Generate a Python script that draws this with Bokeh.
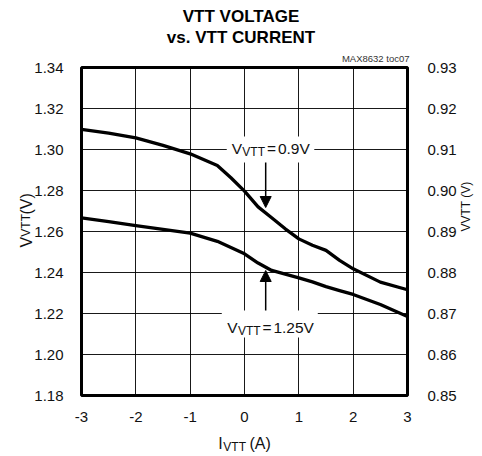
import math
from bokeh.plotting import figure
from bokeh.models import (Range1d, LinearAxis, FixedTicker, NumeralTickFormatter,
                          Label, Arrow, NormalHead, BoxAnnotation, ColumnDataSource)
from bokeh.embed import file_html
from bokeh.resources import INLINE

# ---------------- data ----------------
current = [-3, -2.5, -2, -1.5, -1, -0.5, -0.25, 0, 0.25, 0.5, 0.75, 1, 1.25, 1.5, 1.75, 2, 2.5, 3]
# VTT = 0.9V curve (right axis, V)
vtt_090 = [0.9149, 0.9140, 0.91285, 0.9110, 0.90895, 0.9061, 0.9031, 0.89985, 0.8960,
           0.89335, 0.89065, 0.8882, 0.88665, 0.8854, 0.88295, 0.8809, 0.87765, 0.8758]
# VTT = 1.25V curve (left axis, V)
vtt_125 = [1.2667, 1.2648, 1.2629, 1.2610, 1.2592, 1.2552, 1.2522, 1.2491, 1.2446,
           1.2410, 1.2392, 1.2374, 1.2354, 1.2331, 1.2312, 1.2293, 1.2244, 1.2185]

x_ticks = [-3, -2, -1, 0, 1, 2, 3]
y_left_ticks = [1.18, 1.20, 1.22, 1.24, 1.26, 1.28, 1.30, 1.32, 1.34]
y_right_ticks = [0.85, 0.86, 0.87, 0.88, 0.89, 0.90, 0.91, 0.92, 0.93]

title_lines = ["VTT VOLTAGE", "vs. VTT CURRENT"]
note_text = "MAX8632 toc07"
label_09 = ["V", "VTT", "=", "0.9V"]
label_125 = ["V", "VTT", "=", "1.25V"]
x_label = ["I", "VTT", "(A)"]
y_label = ["V", "VTT", "(V)"]
arrow_x = 0.39

FONT = "Liberation Sans"
INK = "#111111"
NB = "\u00a0"

# ---------------- figure ----------------
W, H = 482, 454
BL, BT = 81, 67
FW, FH = 327, 328
BR, BB = W - BL - FW, H - BT - FH

p = figure(width=W, height=H, x_range=Range1d(-3, 3), y_range=Range1d(1.18, 1.34),
           output_backend="svg", toolbar_location=None, title=None,
           min_border_left=BL, min_border_right=BR, min_border_top=BT, min_border_bottom=BB,
           background_fill_color="white", border_fill_color="white")
p.extra_y_ranges = {"right": Range1d(0.85, 0.93)}
p.add_layout(LinearAxis(y_range_name="right"), "right")

p.xaxis.ticker = FixedTicker(ticks=x_ticks)
p.xaxis.formatter = NumeralTickFormatter(format="0")
p.yaxis[0].ticker = FixedTicker(ticks=y_left_ticks)
p.yaxis[1].ticker = FixedTicker(ticks=y_right_ticks)
for ax in p.yaxis:
    ax.formatter = NumeralTickFormatter(format="0.00")

for ax in list(p.xaxis) + list(p.yaxis):
    ax.axis_line_color = None
    ax.major_tick_out = 0
    ax.major_tick_in = 0
    ax.minor_tick_out = 0
    ax.minor_tick_in = 0
    ax.major_label_text_font = FONT
    ax.major_label_text_font_size = "15px"
    ax.major_label_text_color = INK
    ax.axis_label_text_font = FONT
    ax.axis_label_text_font_size = "16px"
    ax.axis_label_text_font_style = "normal"
    ax.axis_label_text_color = INK
p.xaxis.major_label_standoff = 16
p.yaxis[0].major_label_standoff = 18
p.yaxis[1].major_label_standoff = 20

# axis titles (subscripts drawn as separate labels in the gaps)
p.xaxis.axis_label = x_label[0] + NB * 6 + x_label[2]
p.xaxis.axis_label_standoff = 10
p.yaxis[0].axis_label = NB * 5 + y_label[0] + NB * 5 + y_label[2]
p.yaxis[0].axis_label_standoff = -4
p.yaxis[1].axis_label = "".join(y_label[:2]) + " " + y_label[2]
p.yaxis[1].axis_label_standoff = 6
p.yaxis[1].axis_label_text_font_size = "12px"
p.yaxis[1].axis_label_orientation = math.pi / 2

p.xgrid.ticker = FixedTicker(ticks=x_ticks)
p.ygrid.ticker = FixedTicker(ticks=y_left_ticks)
for g in (p.xgrid, p.ygrid):
    g.grid_line_color = "black"
    g.grid_line_width = 1
    g.grid_line_alpha = 0.9

p.outline_line_color = "black"
p.outline_line_width = 3
p.outline_line_alpha = 1

src = ColumnDataSource(dict(i=current, v09=vtt_090, v125=vtt_125))
p.line("i", "v09", source=src, y_range_name="right", line_color="black",
       line_width=3.3, line_join="round")
p.line("i", "v125", source=src, line_color="black", line_width=3.3, line_join="round")

# ---------------- helpers: canvas pixel -> data positions ----------------
FB = BT + FH
K = 0.37  # empirical baseline correction of the renderer, in em


def dx(px):
    return -3 + (px - BL) * 6.0 / FW


def dy(py):
    return 1.18 + (FB - py) * 0.16 / FH


def lab(text, px, py, size, align="left", bold=False, angle=0, color=INK, place="center"):
    if angle == 0:
        py = py - K * size
    p.add_layout(Label(x=dx(px), y=dy(py), text=text, text_font=FONT,
                       text_font_size=f"{size}px",
                       text_font_style="bold" if bold else "normal",
                       text_align=align, text_baseline="alphabetic",
                       angle=angle, text_color=color), place)


# title and note
lab(title_lines[0], 241, 22.3, 17, align="center", bold=True, color="black", place="above")
lab(title_lines[1], 241, 43.5, 17, align="center", bold=True, color="black", place="above")
lab(note_text, 410, 61.5, 9.5, align="right", color="#333333", place="above")

# white boxes behind the in-plot labels
for (l, r, t, b) in [(226.7, 314.5, 136, 162), (221.7, 318, 310, 337)]:
    p.add_layout(BoxAnnotation(left=dx(l), right=dx(r), top=dy(t), bottom=dy(b),
                               fill_color="white", fill_alpha=1, line_color=None))

# V_VTT = 0.9V
lab(label_09[0], 231.7, 153.3, 15.5)
lab(label_09[1], 242.3, 155.9, 12)
lab(label_09[2], 267.0, 153.3, 15.5)
lab(label_09[3], 278.0, 153.3, 15.5)
# V_VTT = 1.25V
lab(label_125[0], 227.3, 332.3, 15.5)
lab(label_125[1], 238.0, 335.3, 12)
lab(label_125[2], 262.5, 332.3, 15.5)
lab(label_125[3], 273.5, 332.3, 15.5)

# arrows
for (y0, y1) in [(dy(162), dy(207)), (dy(310), dy(270))]:
    p.add_layout(Arrow(x_start=arrow_x, y_start=y0, x_end=arrow_x, y_end=y1,
                       line_color="black", line_width=1.5,
                       end=NormalHead(size=11, fill_color="black", line_color="black")))

# subscripts of the axis titles
lab(x_label[1], 223.3, 451.0, 12, place="above")
lab(y_label[1], 25.0, 236.2, 12, angle=math.pi / 2, place="left")

open("out.html", "w").write(file_html(p, INLINE))
